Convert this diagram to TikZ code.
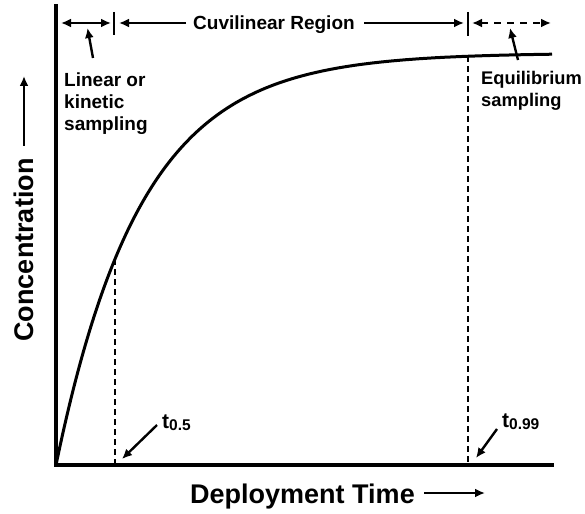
\documentclass[tikz,border=0pt]{standalone}
\usepackage{fontspec}
\setmainfont{Liberation Sans}
\usetikzlibrary{arrows.meta}
\tikzset{
  axisline/.style={line width=4pt, line cap=rect},
  curveline/.style={line width=3pt},
  guide/.style={line width=2.8pt, dash pattern=on 6pt off 4pt},
  pointer/.style={line width=2.4pt, -{Latex[length=10pt,width=9pt]}},
  span/.style={line width=2.4pt, {Latex[length=10pt,width=9pt]}-{Latex[length=10pt,width=9pt]}},
  tickmark/.style={line width=2.4pt},
  lbl/.style={inner sep=0pt, font=\bfseries\fontsize{19}{22}\selectfont, align=left},
  biglbl/.style={inner sep=0pt, font=\bfseries\fontsize{27}{30}\selectfont},
  tlbl/.style={inner sep=0pt, font=\bfseries\fontsize{21}{24}\selectfont}
}
\newcommand{\tsub}[1]{{\fontsize{15.5}{15.5}\selectfont\raisebox{-2pt}{#1}}}
\begin{document}
\begin{tikzpicture}[x=1pt, y=-1pt]
\useasboundingbox (0,0) rectangle (585,513);

% axes
\coordinate (O) at (56,465);
\coordinate (ytop) at (56,6);
\coordinate (xend) at (552,465);
\draw[axisline] (ytop) -- (O) -- (xend);

% uptake curve C = Cmax (1 - exp(-k t))
\draw[curveline] plot[domain=0:496, samples=150, smooth]
  ({56+\x}, {465-412*(1-exp(-0.01175*\x))});

% half-time and equilibrium-time guides
\coordinate (h0) at (115,259);
\coordinate (h1) at (115,465);
\coordinate (e0) at (468,56.3);
\coordinate (e1) at (468,465);
\draw[guide] (h0) -- (h1);
\draw[guide] (e0) -- (e1);

% regions along the top
\coordinate (linA) at (61,23);
\coordinate (linB) at (111,23);
\coordinate (tickA1) at (114,12);
\coordinate (tickA2) at (114,35);
\coordinate (tickB1) at (468,12);
\coordinate (tickB2) at (468,36);
\draw[span] (linA) -- (linB);
\draw[tickmark] (tickA1) -- (tickA2);
\draw[tickmark] (tickB1) -- (tickB2);

\node[lbl, anchor=base west] (curv) at (193,30) {Cuvilinear Region};
\coordinate (cl) at (186,23);
\coordinate (clTip) at (119,23);
\coordinate (cr) at (364,23);
\coordinate (crTip) at (464,23);
\draw[pointer] (cl) -- (clTip);
\draw[pointer] (cr) -- (crTip);

\coordinate (eqA) at (472,23);
\coordinate (eqB) at (551,23);
\draw[span, dash pattern=on 7pt off 6pt] (eqA) -- (eqB);

% region labels with pointers
\node[lbl, anchor=north west] (lin) at (64,73) {Linear or\\kinetic\\sampling};
\coordinate (linP) at (93,58);
\coordinate (linPt) at (87.5,28);
\draw[pointer] (linP) -- (linPt);

\node[lbl, anchor=north west, font=\bfseries\fontsize{18.3}{22}\selectfont] (eq) at (481,71) {Equilibrium\\sampling};
\coordinate (eqP) at (518,60);
\coordinate (eqPt) at (510,28);
\draw[pointer] (eqP) -- (eqPt);

% time markers
\node[tlbl, anchor=base west] (t5) at (162,428) {t\tsub{0.5}};
\coordinate (t5P) at (157,425);
\coordinate (t5Pt) at (122,459);
\draw[pointer] (t5P) -- (t5Pt);

\node[tlbl, anchor=base west] (t99) at (502,427) {t\tsub{0.99}};
\coordinate (t99P) at (497,429);
\coordinate (t99Pt) at (476,458);
\draw[pointer] (t99P) -- (t99Pt);

% axis titles
\node[biglbl, anchor=base west] (xl) at (190,503) {Deployment Time};
\coordinate (xa) at (424,493);
\coordinate (xb) at (485,493);
\draw[pointer] (xa) -- (xb);

\node[biglbl, rotate=90, anchor=base] (yl) at (33,250) {Concentration};
\coordinate (ya) at (24,146);
\coordinate (yb) at (24,76);
\draw[pointer] (ya) -- (yb);
\end{tikzpicture}
\end{document}
